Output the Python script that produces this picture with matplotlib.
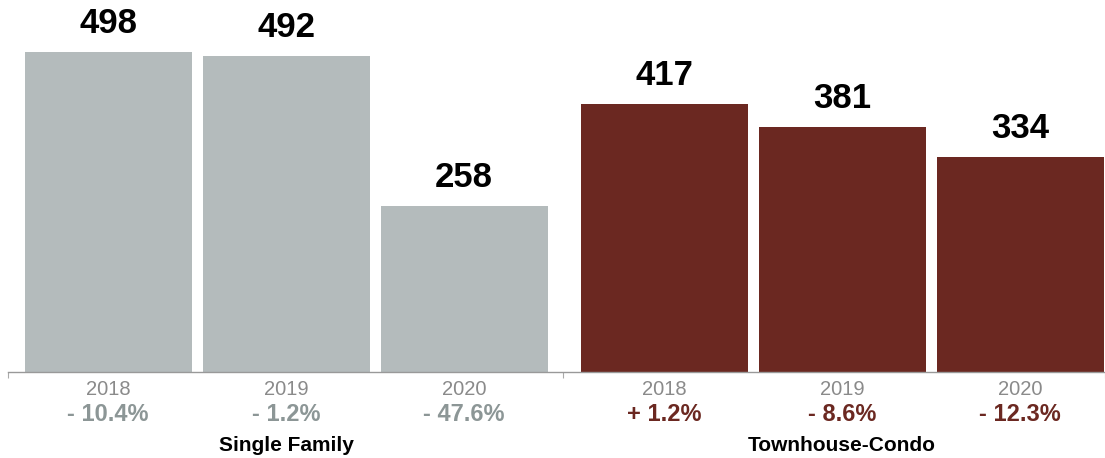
import numpy as np
import matplotlib.pyplot as plt

plt.rcParams['font.family'] = ['Liberation Sans', 'DejaVu Sans']

groups = ['Single Family', 'Townhouse-Condo']
years = ['2018', '2019', '2020']
single_family = [498, 492, 258]
townhouse_condo = [417, 381, 334]
sf_change = ['- 10.4%', '- 1.2%', '- 47.6%']
tc_change = ['+ 1.2%', '- 8.6%', '- 12.3%']

gray = '#b4bbbc'
gray_text = '#8c9696'
red = '#6b2821'
year_color = '#8a8a8a'

# bar layout: three bars per group, extra gap between the groups
group_gap = 1.124
width = 0.938
sf_x = np.arange(3)
tc_x = np.arange(3) + 2 + group_gap

fig = plt.figure(figsize=(11.05, 4.58), dpi=100)
ax = fig.add_axes([8 / 1105, 86 / 458, 1097 / 1105, 372 / 458])

ax.bar(sf_x, single_family, width=width, color=gray)
ax.bar(tc_x, townhouse_condo, width=width, color=red)

ax.set_xlim(-0.562, 5.601)
ax.set_ylim(0, 579)

for spine in ['top', 'right', 'left']:
    ax.spines[spine].set_visible(False)
ax.spines['bottom'].set_color('#999999')
ax.spines['bottom'].set_linewidth(1.0)
ax.set_yticks([])
ax.set_xticks([-0.562, 2.556, 5.601])
ax.set_xticklabels([])
ax.tick_params(axis='x', direction='out', length=4, width=0.8, color='#aaaaaa')

xa = ('data', 'axes fraction')


def label_group(xs, values, changes, pct_color, name):
    for x, v, yr, ch in zip(xs, values, years, changes):
        ax.annotate(str(v), xy=(x, v), xytext=(0, 20.8), textcoords='offset points',
                    ha='center', va='center', fontsize=25, fontweight='bold', color='black')
        ax.annotate(yr, xy=(x, 0), xycoords=xa, xytext=(0, -12.8), textcoords='offset points',
                    ha='center', va='center', fontsize=14.5, color=year_color)
        ax.annotate(ch, xy=(x, 0), xycoords=xa, xytext=(0, -30.8), textcoords='offset points',
                    ha='center', va='center', fontsize=17, fontweight='bold', color=pct_color)
    ax.annotate(name, xy=(xs[1], 0), xycoords=xa, xytext=(0, -53), textcoords='offset points',
                ha='center', va='center', fontsize=15, fontweight='bold', color='black')


label_group(sf_x, single_family, sf_change, gray_text, groups[0])
label_group(tc_x, townhouse_condo, tc_change, red, groups[1])

fig.savefig('out.png', dpi=100, facecolor='white')
